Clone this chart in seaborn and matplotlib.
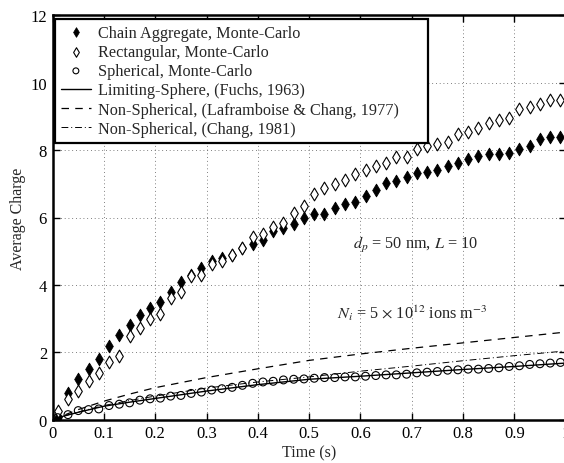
import numpy as np
import pandas as pd
import matplotlib
matplotlib.use("Agg")
import matplotlib.pyplot as plt
import seaborn as sns
from matplotlib.ticker import FormatStrFormatter

# Monte-Carlo sample times (s)
time_mc = [0.01, 0.03, 0.05, 0.07, 0.09, 0.11, 0.13, 0.15, 0.17, 0.19,
           0.21, 0.23, 0.25, 0.27, 0.29, 0.31, 0.33, 0.35, 0.37, 0.39,
           0.41, 0.43, 0.45, 0.47, 0.49, 0.51, 0.53, 0.55, 0.57, 0.59,
           0.61, 0.63, 0.65, 0.67, 0.69, 0.71, 0.73, 0.75, 0.77, 0.79,
           0.81, 0.83, 0.85, 0.87, 0.89, 0.91, 0.93, 0.95, 0.97, 0.99]

chain_charge = [0.07, 0.80, 1.20, 1.50, 1.80, 2.20, 2.50, 2.80, 3.10, 3.30,
                3.50, 3.80, 4.10, 4.30, 4.50, 4.70, 4.80, 4.90, 5.10, 5.20,
                5.32, 5.60, 5.70, 5.80, 6.00, 6.09, 6.09, 6.29, 6.41, 6.47,
                6.63, 6.82, 7.02, 7.08, 7.20, 7.32, 7.36, 7.42, 7.52, 7.62,
                7.74, 7.83, 7.87, 7.89, 7.91, 8.03, 8.11, 8.33, 8.39, 8.39]

rect_charge = [0.25, 0.60, 0.85, 1.15, 1.40, 1.70, 1.90, 2.49, 2.71, 2.99,
               3.13, 3.60, 3.80, 4.27, 4.29, 4.61, 4.71, 4.90, 5.10, 5.42,
               5.52, 5.73, 5.84, 6.12, 6.33, 6.71, 6.88, 6.98, 7.12, 7.28,
               7.40, 7.52, 7.62, 7.81, 7.81, 8.03, 8.13, 8.17, 8.25, 8.49,
               8.53, 8.65, 8.80, 8.88, 8.96, 9.22, 9.28, 9.38, 9.48, 9.50]

sphere_charge = [0.06, 0.15, 0.27, 0.30, 0.32, 0.42, 0.46, 0.50, 0.58, 0.62,
                 0.64, 0.70, 0.72, 0.78, 0.82, 0.88, 0.92, 0.96, 1.02, 1.08,
                 1.12, 1.14, 1.18, 1.20, 1.21, 1.23, 1.25, 1.25, 1.27, 1.27,
                 1.29, 1.31, 1.33, 1.33, 1.35, 1.39, 1.41, 1.43, 1.47, 1.48,
                 1.50, 1.50, 1.52, 1.54, 1.58, 1.60, 1.64, 1.66, 1.68, 1.70]

# Analytical charging curves
time_theory = [0.0, 0.02, 0.05, 0.10, 0.15, 0.20, 0.30, 0.40, 0.50,
               0.60, 0.70, 0.80, 0.90, 1.00]
fuchs_charge = [0.0, 0.10, 0.22, 0.40, 0.52, 0.63, 0.85, 1.04, 1.20,
                1.29, 1.39, 1.49, 1.58, 1.68]
laframboise_charge = [0.0, 0.12, 0.30, 0.55, 0.76, 0.95, 1.25, 1.51, 1.76,
                      1.95, 2.12, 2.28, 2.44, 2.60]
chang_charge = [0.0, 0.10, 0.23, 0.42, 0.57, 0.70, 0.94, 1.12, 1.27,
                1.44, 1.59, 1.75, 1.90, 2.04]

x_ticks = [0, 0.1, 0.2, 0.3, 0.4, 0.5, 0.6, 0.7, 0.8, 0.9, 1.0]
y_ticks = [0, 2, 4, 6, 8, 10, 12]

mc = pd.DataFrame({"t": time_mc, "chain": chain_charge,
                   "rect": rect_charge, "sphere": sphere_charge})
th = pd.DataFrame({"t": time_theory, "fuchs": fuchs_charge,
                   "lafr": laframboise_charge, "chang": chang_charge})

sns.set_style("ticks")
plt.rcParams["font.family"] = ["Liberation Serif", "DejaVu Serif"]
plt.rcParams["mathtext.fontset"] = "stix"
plt.rcParams["xtick.direction"] = "in"
plt.rcParams["ytick.direction"] = "in"

fig = plt.figure(figsize=(5.64, 4.64), dpi=100)
ax = fig.add_axes([52.6 / 564, 43.3 / 464, 513 / 564, 404.4 / 464])

sns.lineplot(data=th, x="t", y="fuchs", ax=ax, color="black", lw=1.0,
             linestyle="-", label="Limiting-Sphere, (Fuchs, 1963)")
sns.lineplot(data=th, x="t", y="lafr", ax=ax, color="black", lw=0.9,
             dashes=False, linestyle=(0, (6, 5)),
             label="Non-Spherical, (Laframboise & Chang, 1977)")
sns.lineplot(data=th, x="t", y="chang", ax=ax, color="black", lw=0.7,
             dashes=False, linestyle=(0, (7, 3, 1, 3)),
             label="Non-Spherical, (Chang, 1981)")

sns.scatterplot(data=mc, x="t", y="chain", ax=ax, marker="d", s=42,
                color="black", edgecolor="black", linewidth=0.6,
                label="Chain Aggregate, Monte-Carlo", zorder=3)
sns.scatterplot(data=mc, x="t", y="rect", ax=ax, marker="d", s=42,
                facecolor="white", edgecolor="black", linewidth=0.8,
                label="Rectangular, Monte-Carlo", zorder=3)
sns.scatterplot(data=mc, x="t", y="sphere", ax=ax, marker="o", s=32,
                facecolor="none", edgecolor="black", linewidth=0.8,
                label="Spherical, Monte-Carlo", zorder=3)

ax.set_xlim(0, 1.0)
ax.set_ylim(0, 12)
ax.set_xticks(x_ticks)
ax.set_yticks(y_ticks)
ax.xaxis.set_major_formatter(FormatStrFormatter("%g"))
ax.yaxis.set_major_formatter(FormatStrFormatter("%g"))
ax.tick_params(axis="both", which="major", labelsize=12, length=5,
               width=1.0, top=True, right=True, pad=4, colors="black")
ax.grid(True, linestyle=(0, (1, 3.5)), color="#555555", lw=0.6)
for sp in ax.spines.values():
    sp.set_linewidth(1.8)
    sp.set_color("black")

ax.set_xlabel("Time (s)", fontsize=11.5, labelpad=2)
ax.set_ylabel("Average Charge", fontsize=11.5, labelpad=3)

ax.text(0.708, 5.2, r"$d_p$ = 50 nm, $L$ = 10", fontsize=11.7,
        ha="center", va="center")
ax.text(0.70, 3.2, r"$N_i$ = 5 $\times$ 10$^{12}$ ions m$^{-3}$",
        fontsize=11.7, ha="center", va="center")

handles, labels = ax.get_legend_handles_labels()
order = [labels.index(l) for l in [
    "Chain Aggregate, Monte-Carlo", "Rectangular, Monte-Carlo",
    "Spherical, Monte-Carlo", "Limiting-Sphere, (Fuchs, 1963)",
    "Non-Spherical, (Laframboise & Chang, 1977)",
    "Non-Spherical, (Chang, 1981)"]]
leg = ax.legend([handles[i] for i in order], [labels[i] for i in order],
                loc="upper left", bbox_to_anchor=(0.005, 0.991, 0.727, 0),
                mode="expand", fontsize=11.7, frameon=True, fancybox=False,
                edgecolor="black", framealpha=1, borderaxespad=0,
                labelspacing=0.2, handlelength=1.85, handletextpad=0.45,
                borderpad=0.35, markerscale=0.75)
leg.get_frame().set_linewidth(1.6)

fig.savefig("out.png", dpi=100)
